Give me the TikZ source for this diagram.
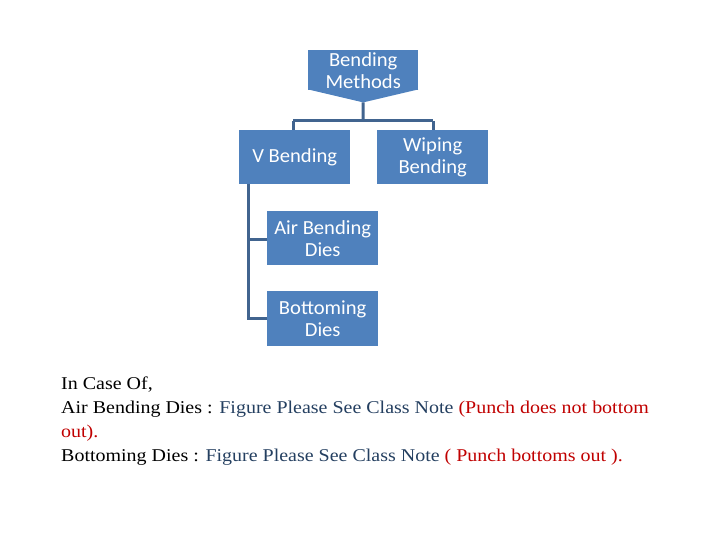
\documentclass[tikz,border=0pt]{standalone}
\usepackage{fontspec}
\setmainfont{Liberation Serif}
\newfontfamily\calib[FakeStretch=1.03]{Carlito}
\newfontfamily\notefont[FakeStretch=1.11]{Liberation Serif}
\definecolor{boxblue}{HTML}{4F81BD}
\definecolor{linkblue}{HTML}{41648F}
\definecolor{noteblue}{HTML}{243F60}
\definecolor{notered}{HTML}{C00000}
\begin{document}
\begin{tikzpicture}[x=1pt,y=-1pt,
  bx/.style={fill=boxblue,draw=none,text=white,font=\calib\fontsize{20}{22}\selectfont,align=center,inner sep=0pt,anchor=north west},
  lnk/.style={draw=linkblue,line width=3pt},
  note/.style={anchor=base west,inner sep=0pt,font=\notefont\fontsize{18}{24}\selectfont}]
\useasboundingbox (0,0) rectangle (720,540);
% root
\node[bx,minimum width=110pt,minimum height=40pt] (root) at (308,50) {Bending\\Methods};
\fill[boxblue] ([yshift=1pt]root.south west) -- ([yshift=1pt]root.south east) -- ([yshift=-12pt]root.south) -- cycle;
\coordinate (tip) at ([yshift=-12pt]root.south);
\node[bx,minimum width=111pt,minimum height=54pt] (vb) at (239,130) {V Bending};
\node[bx,minimum width=111pt,minimum height=54pt] (wb) at (377,130) {Wiping\\Bending};
\node[bx,minimum width=111pt,minimum height=54pt] (air) at (267,211) {Air Bending\\Dies};
\node[bx,minimum width=111pt,minimum height=55pt] (bot) at (267,291) {Bottoming\\Dies};
% connectors
\draw[lnk] (tip) -- (363,121) coordinate (j);
\draw[lnk] ([xshift=-70pt]j) coordinate (jl) -- ([xshift=70pt]j) coordinate (jr);
\draw[lnk] (jl) -- (jl |- vb.north);
\draw[lnk] (jr) -- (jr |- wb.north);
\coordinate (vs) at ([xshift=9pt]vb.south west);
\draw[lnk] (vs) |- (bot.west |- 0,318);
\draw[lnk] (vs |- 0,239) -- (air.west |- 0,239);
% note text
\node[note] (n1) at (61,389) {In Case Of,};
\node[note] (n2) at (61,413) {Air Bending Dies : \textcolor{noteblue}{Figure Please See Class Note} \textcolor{notered}{(Punch does not bottom}};
\node[note,text=notered] (n3) at (61,437) {out).};
\node[note] (n4) at (61,461) {Bottoming Dies : \textcolor{noteblue}{Figure Please See Class Note} \textcolor{notered}{( Punch bottoms out ).}};
\end{tikzpicture}
\end{document}
